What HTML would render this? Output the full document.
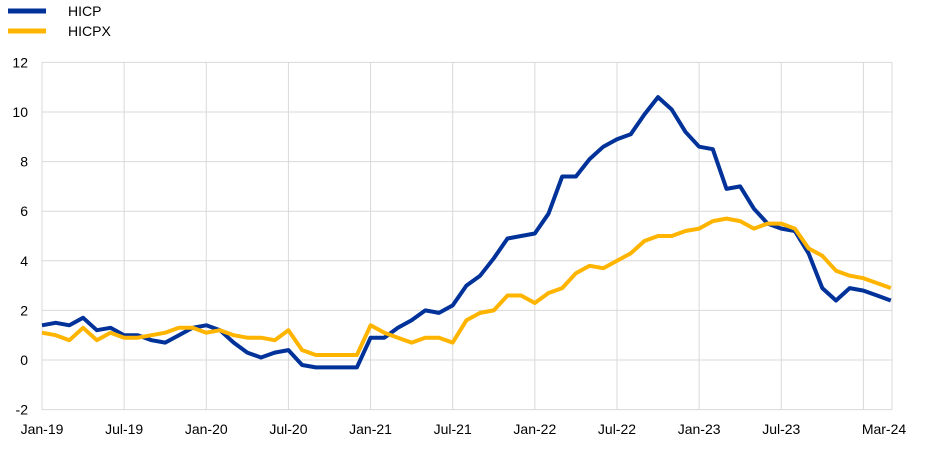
<!DOCTYPE html>
<html><head><meta charset="utf-8"><style>
body{margin:0;background:#fff;width:945px;height:445px;overflow:hidden;font-family:"Liberation Sans",sans-serif}
</style></head><body>
<svg id="s" width="945" height="445" xmlns="http://www.w3.org/2000/svg" font-family="Liberation Sans, sans-serif" font-size="14" fill="#000">
<line x1="8" y1="11" x2="46" y2="11" stroke="#003299" stroke-width="5"/>
<text x="68" y="16">HICP</text>
<line x1="8" y1="31" x2="46" y2="31" stroke="#FFB400" stroke-width="5"/>
<text x="68" y="36">HICPX</text>
<g id="g"></g>
</svg>
<script>
var g=document.getElementById('g'),ns='http://www.w3.org/2000/svg';
function el(t,a,txt){var e=document.createElementNS(ns,t);for(var k in a)e.setAttribute(k,a[k]);if(txt!==undefined)e.textContent=txt;g.appendChild(e);return e;}
var x0=42,dx=13.69,y=function(v){return 360-v*24.8;};
var right=892;
for(var v=-2;v<=12;v+=2){el('line',{x1:x0,x2:right,y1:y(v),y2:y(v),stroke:'#d9d9d9','stroke-width':1});
el('text',{x:28,y:y(v)+5,'text-anchor':'end'},v);}
var labs=['Jan-19','Jul-19','Jan-20','Jul-20','Jan-21','Jul-21','Jan-22','Jul-22','Jan-23','Jul-23'];
for(var i=0;i<labs.length;i++){var xx=x0+i*6*dx;el('line',{x1:xx,x2:xx,y1:y(12),y2:y(-2),stroke:'#d9d9d9'});
el('text',{x:xx,y:434,'text-anchor':'middle'},labs[i]);}
var xj=x0+60*dx;el('line',{x1:xj,x2:xj,y1:y(12),y2:y(-2),stroke:'#d9d9d9'});
el('line',{x1:right,x2:right,y1:y(12),y2:y(-2),stroke:'#d9d9d9'});
el('text',{x:884,y:434,'text-anchor':'middle'},'Mar-24');
var h=[1.4,1.5,1.4,1.7,1.2,1.3,1.0,1.0,0.8,0.7,1.0,1.3,1.4,1.2,0.7,0.3,0.1,0.3,0.4,-0.2,-0.3,-0.3,-0.3,-0.3,0.9,0.9,1.3,1.6,2.0,1.9,2.2,3.0,3.4,4.1,4.9,5.0,5.1,5.9,7.4,7.4,8.1,8.6,8.9,9.1,9.9,10.6,10.1,9.2,8.6,8.5,6.9,7.0,6.1,5.5,5.3,5.2,4.3,2.9,2.4,2.9,2.8,2.6,2.4];
var c=[1.1,1.0,0.8,1.3,0.8,1.1,0.9,0.9,1.0,1.1,1.3,1.3,1.1,1.2,1.0,0.9,0.9,0.8,1.2,0.4,0.2,0.2,0.2,0.2,1.4,1.1,0.9,0.7,0.9,0.9,0.7,1.6,1.9,2.0,2.6,2.6,2.3,2.7,2.9,3.5,3.8,3.7,4.0,4.3,4.8,5.0,5.0,5.2,5.3,5.6,5.7,5.6,5.3,5.5,5.5,5.3,4.5,4.2,3.6,3.4,3.3,3.1,2.9];
function pts(a){return a.map(function(v,i){return (x0+i*dx).toFixed(1)+','+y(v).toFixed(1);}).join(' ');}
el('polyline',{points:pts(h),fill:'none',stroke:'#003299','stroke-width':4,'stroke-linejoin':'round'});
el('polyline',{points:pts(c),fill:'none',stroke:'#FFB400','stroke-width':4,'stroke-linejoin':'round'});
</script>
</body></html>
